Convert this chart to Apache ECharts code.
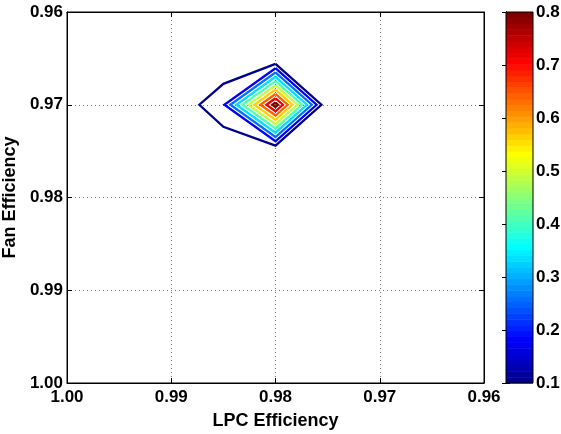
<!DOCTYPE html>
<html>
<head>
<meta charset="utf-8">
<script src="https://cdn.jsdelivr.net/npm/echarts@6/dist/echarts.min.js"></script>
<style>
  html, body { margin: 0; padding: 0; background: #fff; }
  #chart { width: 561px; height: 434px; }
</style>
</head>
<body>
<div id="chart"></div>
<script>
// grid nodes (x = LPC efficiency, y = fan efficiency)
const lpcEff = [0.960, 0.965, 0.970, 0.975, 0.980, 0.985, 0.990, 0.995, 1.000];
const fanEff = [0.960, 0.965, 0.970, 0.975, 0.980, 0.985, 0.990, 0.995, 1.000];
// surface values, one row per fanEff, one column per lpcEff
const surface = [
  [0, 0, 0, 0, 0,    0,     0,     0, 0],
  [0, 0, 0, 0, 0,    0.021, 0.005, 0, 0],
  [0, 0, 0, 0, 0.84, 0.165, 0.024, 0, 0],
  [0, 0, 0, 0, 0,    0.028, 0.005, 0, 0],
  [0, 0, 0, 0, 0,    0,     0,     0, 0],
  [0, 0, 0, 0, 0,    0,     0,     0, 0],
  [0, 0, 0, 0, 0,    0,     0,     0, 0],
  [0, 0, 0, 0, 0,    0,     0,     0, 0],
  [0, 0, 0, 0, 0,    0,     0,     0, 0]
];
const levelMin = 0.1;
const levelMax = 0.8;
const levelCount = 10;

// matlab jet(64)
function jet(m) {
  const n = Math.ceil(m / 4);
  const u = [];
  for (let i = 1; i <= n; i++) u.push(i / n);
  for (let i = 1; i < n; i++) u.push(1);
  for (let i = n; i >= 1; i--) u.push(i / n);
  const off = Math.ceil(n / 2) - (m % 4 === 1 ? 1 : 0);
  const J = [];
  for (let i = 0; i < m; i++) J.push([0, 0, 0]);
  u.forEach((v, k) => {
    const g = off + k + 1, r = g + n, b = g - n;
    if (g >= 1 && g <= m) J[g - 1][1] = v;
    if (r >= 1 && r <= m) J[r - 1][0] = v;
    if (b >= 1 && b <= m) J[b - 1][2] = v;
  });
  return J.map(c => 'rgb(' + c.map(v => Math.round(v * 255)).join(',') + ')');
}
const cmap = jet(64);
function levelColor(v) {
  let idx = Math.floor((v - levelMin) / (levelMax - levelMin) * 64 + 1e-9);
  return cmap[Math.max(0, Math.min(63, idx))];
}

// marching squares -> polylines
function contour(level) {
  const nx = lpcEff.length, ny = fanEff.length;
  const segs = [];
  function cross(i1, j1, i2, j2) {
    const a = surface[j1][i1], b = surface[j2][i2];
    if ((a >= level) === (b >= level)) return null;
    const t = (level - a) / (b - a);
    return [lpcEff[i1] + t * (lpcEff[i2] - lpcEff[i1]), fanEff[j1] + t * (fanEff[j2] - fanEff[j1])];
  }
  for (let j = 0; j < ny - 1; j++) {
    for (let i = 0; i < nx - 1; i++) {
      const edges = [
        ['h' + i + '_' + j, cross(i, j, i + 1, j)],
        ['v' + (i + 1) + '_' + j, cross(i + 1, j, i + 1, j + 1)],
        ['h' + i + '_' + (j + 1), cross(i + 1, j + 1, i, j + 1)],
        ['v' + i + '_' + j, cross(i, j + 1, i, j)]
      ].filter(e => e[1]);
      if (edges.length === 2) segs.push(edges);
      else if (edges.length === 4) { segs.push([edges[0], edges[1]]); segs.push([edges[2], edges[3]]); }
    }
  }
  const byKey = {};
  segs.forEach((s, k) => s.forEach(e => (byKey[e[0]] = byKey[e[0]] || []).push(k)));
  const used = new Array(segs.length).fill(false);
  const lines = [];
  for (let k = 0; k < segs.length; k++) {
    if (used[k]) continue;
    used[k] = true;
    const pts = [segs[k][0][1], segs[k][1][1]];
    let key = segs[k][1][0];
    while (true) {
      const next = (byKey[key] || []).find(q => !used[q]);
      if (next === undefined) break;
      used[next] = true;
      const s = segs[next];
      const other = s[0][0] === key ? s[1] : s[0];
      pts.push(other[1]);
      key = other[0];
    }
    lines.push(pts);
  }
  return lines;
}

const levels = [];
for (let k = 0; k < levelCount; k++) levels.push(levelMin + k * (levelMax - levelMin) / (levelCount - 1));

const series = [];
levels.forEach(lv => {
  contour(lv).forEach(pts => {
    series.push({
      type: 'line',
      xAxisIndex: 0,
      yAxisIndex: 0,
      data: pts,
      showSymbol: false,
      symbol: 'none',
      silent: true,
      lineStyle: { color: levelColor(lv), width: 2.3, join: 'miter' },
      z: 5
    });
  });
});

// colorbar bands
const bands = cmap.map((c, i) => [i]);
series.push({
  type: 'custom',
  xAxisIndex: 2,
  yAxisIndex: 2,
  data: bands,
  silent: true,
  renderItem: function (params, api) {
    const i = api.value(0);
    const lo = levelMin + i * (levelMax - levelMin) / 64;
    const hi = levelMin + (i + 1) * (levelMax - levelMin) / 64;
    const p1 = api.coord([0, hi]);
    const p2 = api.coord([1, lo]);
    return {
      type: 'rect',
      shape: { x: p1[0], y: p1[1], width: p2[0] - p1[0], height: p2[1] - p1[1] + 0.5 },
      style: { fill: cmap[i] }
    };
  },
  z: 1
});

const font = 'Liberation Sans';
const tickLabel = { color: '#000', fontFamily: font, fontWeight: 'bold', fontSize: 17 };
const black = { lineStyle: { color: '#000', width: 1 } };

const myChart = echarts.init(document.getElementById('chart'));
const option = {
  animation: false,
  backgroundColor: '#fff',
  grid: [
    { left: 67, right: 77, top: 12, bottom: 51, show: true, borderColor: '#000', borderWidth: 1, backgroundColor: 'transparent', containLabel: false, outerBoundsMode: 'none', z: 10 },
    { left: 506, width: 27, top: 12, bottom: 51, show: true, borderColor: '#000', borderWidth: 1, backgroundColor: 'transparent', containLabel: false, outerBoundsMode: 'none', z: 10 }
  ],
  xAxis: [
    {
      type: 'value', gridIndex: 0, min: 0.96, max: 1.0, interval: 0.01, inverse: true,
      name: 'LPC Efficiency', nameLocation: 'middle', nameGap: 29,
      nameTextStyle: { color: '#000', fontFamily: font, fontWeight: 'bold', fontSize: 18 },
      axisLine: black, axisTick: { inside: true, length: 5, lineStyle: { color: '#000' } },
      axisLabel: Object.assign({ margin: 6, formatter: v => v.toFixed(2) }, tickLabel),
      splitLine: { show: true, lineStyle: { color: '#777', width: 1, type: [1, 3] } }
    },
    {
      type: 'value', gridIndex: 0, position: 'top', min: 0.96, max: 1.0, interval: 0.01, inverse: true,
      axisLine: black, axisTick: { inside: true, length: 5, lineStyle: { color: '#000' } },
      axisLabel: { show: false }, splitLine: { show: false }
    },
    { type: 'value', gridIndex: 1, min: 0, max: 1, show: false }
  ],
  yAxis: [
    {
      type: 'value', gridIndex: 0, min: 0.96, max: 1.0, interval: 0.01, inverse: true,
      name: 'Fan Efficiency', nameLocation: 'middle', nameGap: 46,
      nameTextStyle: { color: '#000', fontFamily: font, fontWeight: 'bold', fontSize: 18 },
      axisLine: black, axisTick: { inside: true, length: 5, lineStyle: { color: '#000' } },
      axisLabel: Object.assign({ margin: 4, formatter: v => v.toFixed(2) }, tickLabel),
      splitLine: { show: true, lineStyle: { color: '#777', width: 1, type: [1, 3] } }
    },
    {
      type: 'value', gridIndex: 0, position: 'right', min: 0.96, max: 1.0, interval: 0.01, inverse: true,
      axisLine: black, axisTick: { inside: true, length: 5, lineStyle: { color: '#000' } },
      axisLabel: { show: false }, splitLine: { show: false }
    },
    {
      type: 'value', gridIndex: 1, position: 'right', min: 0.1, max: 0.8, interval: 0.1,
      axisLine: black, axisTick: { inside: true, length: 4, lineStyle: { color: '#000' } },
      axisLabel: Object.assign({ margin: 3, formatter: v => v.toFixed(1) }, tickLabel),
      splitLine: { show: false }
    },
    {
      type: 'value', gridIndex: 1, position: 'left', min: 0.1, max: 0.8, interval: 0.1,
      axisLine: black, axisTick: { inside: true, length: 4, lineStyle: { color: '#000' } },
      axisLabel: { show: false }, splitLine: { show: false }
    }
  ],
  series: series
};
myChart.setOption(option);
window.addEventListener('resize', () => {
  myChart.resize();
});
</script>
</body>
</html>
